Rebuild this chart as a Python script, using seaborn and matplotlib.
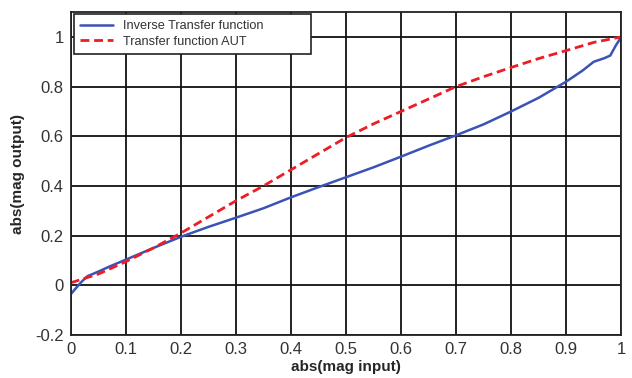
import matplotlib
matplotlib.use("Agg")
import matplotlib.pyplot as plt
import seaborn as sns
import pandas as pd

blue_x = [0.0, 0.01, 0.02, 0.03, 0.05, 0.07, 0.1, 0.15, 0.2, 0.25, 0.3, 0.35, 0.4, 0.45, 0.5,
          0.55, 0.6, 0.65, 0.7, 0.75, 0.8, 0.85, 0.9, 0.93, 0.95, 0.97, 0.98, 0.99, 1.0]
blue_y = [-0.036, -0.01, 0.015, 0.036, 0.055, 0.075, 0.103, 0.15, 0.195, 0.235, 0.272, 0.31, 0.354, 0.395, 0.435,
          0.475, 0.518, 0.562, 0.604, 0.648, 0.70, 0.755, 0.82, 0.865, 0.9, 0.915, 0.925, 0.965, 1.0]
red_x = [0.0, 0.05, 0.1, 0.15, 0.2, 0.25, 0.3, 0.35, 0.4, 0.45, 0.5, 0.55, 0.6, 0.65, 0.7,
         0.75, 0.8, 0.85, 0.9, 0.95, 1.0]
red_y = [0.01, 0.045, 0.095, 0.15, 0.21, 0.275, 0.34, 0.40, 0.465, 0.53, 0.595, 0.65, 0.70, 0.75, 0.80,
         0.84, 0.877, 0.913, 0.945, 0.978, 1.0]

sns.set_style("white")
plt.rcParams['font.family'] = ['Liberation Sans', 'DejaVu Sans']

fig = plt.figure(figsize=(6.32, 3.78), dpi=100)
ax = fig.add_axes([0.112, 0.114, 0.871, 0.854])

df_b = pd.DataFrame({"x": blue_x, "y": blue_y})
df_r = pd.DataFrame({"x": red_x, "y": red_y})
sns.lineplot(data=df_b, x="x", y="y", ax=ax, color="#3a53b5", lw=1.8,
             label="Inverse Transfer function", sort=False)
sns.lineplot(data=df_r, x="x", y="y", ax=ax, color="#ee1c24", lw=2.0, linestyle="--",
             label="Transfer function AUT", sort=False, dashes=False)
ax.lines[1].set_linestyle((0, (3.2, 1.7)))

ax.set_xlim(0, 1)
ax.set_ylim(-0.2, 1.1)
ax.set_xticks([0, 0.1, 0.2, 0.3, 0.4, 0.5, 0.6, 0.7, 0.8, 0.9, 1])
ax.set_xticklabels(["0", "0.1", "0.2", "0.3", "0.4", "0.5", "0.6", "0.7", "0.8", "0.9", "1"])
ax.set_yticks([-0.2, 0, 0.2, 0.4, 0.6, 0.8, 1])
ax.set_yticklabels(["-0.2", "0", "0.2", "0.4", "0.6", "0.8", "1"])
ax.grid(True, color="#111111", lw=1.3)
ax.set_axisbelow(True)
for s in ax.spines.values():
    s.set_color("#222222")
    s.set_linewidth(1.3)
ax.tick_params(labelsize=12, colors="#333333", length=0, pad=5)
ax.set_xlabel("abs(mag input)", fontsize=11, fontweight="bold", labelpad=2)
ax.set_ylabel("abs(mag output)", fontsize=11, fontweight="bold", labelpad=7)

leg = ax.legend(loc="upper left", bbox_to_anchor=(0.006, 0.88, 0.43, 0.113), mode="expand",
                fontsize=9.2, frameon=True, fancybox=False, borderaxespad=0.0,
                handlelength=2.6, borderpad=0.45, labelspacing=0.3, handletextpad=0.8)
leg.get_frame().set_edgecolor("#222222")
leg.get_frame().set_linewidth(1.2)
leg.get_frame().set_alpha(1)
for t in leg.get_texts():
    t.set_color("#333333")

fig.savefig("out.png", dpi=100)
